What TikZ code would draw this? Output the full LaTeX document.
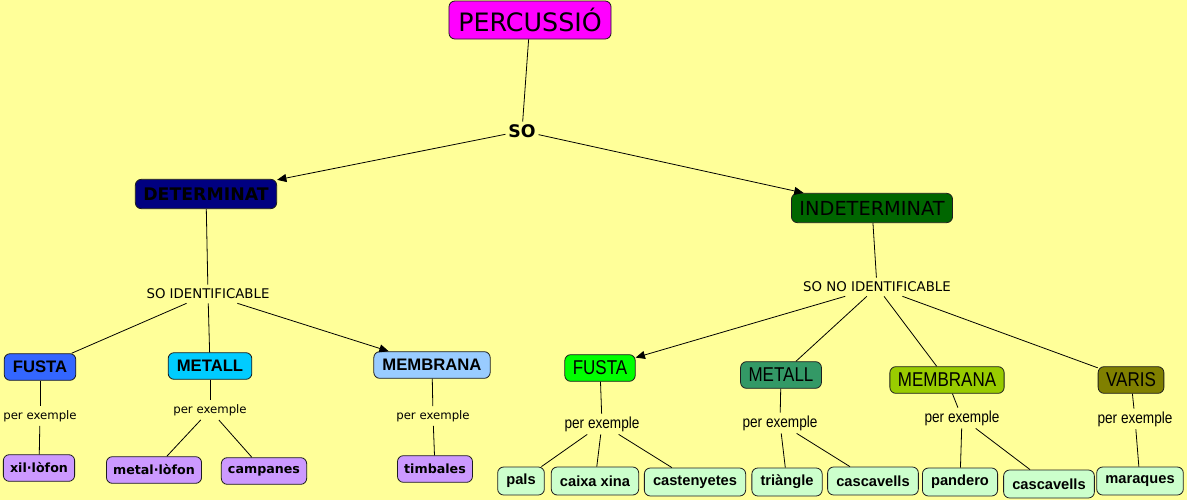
\documentclass[tikz,border=0pt]{standalone}
\usepackage{fontspec}
\setmainfont{DejaVu Sans}
\newfontfamily\narrowfont[FakeStretch=0.85]{Liberation Sans}
\newfontfamily\arialfont{Liberation Sans}
\usetikzlibrary{arrows.meta}
\definecolor{paper}{RGB}{255,255,153}
\definecolor{edge}{RGB}{30,30,30}
\definecolor{cHead}{RGB}{255,0,255}
\definecolor{cDet}{RGB}{0,0,128}
\definecolor{cIndet}{RGB}{0,102,0}
\definecolor{cWoodA}{RGB}{51,102,255}
\definecolor{cMetalA}{RGB}{0,204,255}
\definecolor{cSkinA}{RGB}{153,204,255}
\definecolor{cWoodB}{RGB}{0,255,0}
\definecolor{cMetalB}{RGB}{51,153,102}
\definecolor{cSkinB}{RGB}{153,204,0}
\definecolor{cMisc}{RGB}{128,128,0}
\definecolor{cLeafA}{RGB}{204,153,255}
\definecolor{cLeafB}{RGB}{204,255,204}
\newcommand{\fs}[1]{\fontsize{#1}{#1}\selectfont}

\begin{document}
\begin{tikzpicture}[
  x=0.75pt, y=-0.75pt,
  >={Triangle[length=7pt,width=6pt]},
  concept/.style={draw=edge, line width=0.6pt, rounded corners=4.5pt, align=center, text=black},
  head/.style={concept, fill=cHead, font=\fs{19}, minimum height=28.5pt, inner xsep=7pt},
  kind/.style={concept, font=\fs{14.5}, minimum height=22pt, inner xsep=6pt},
  groupA/.style={concept, font=\arialfont\bfseries\fs{12.5}, minimum height=20pt, inner xsep=6.5pt},
  groupB/.style={concept, font=\narrowfont\fs{15}, minimum height=20pt, inner xsep=6pt},
  leafA/.style={concept, fill=cLeafA, font=\bfseries\fs{9.5}, minimum height=20pt, inner xsep=5pt},
  leafB/.style={concept, fill=cLeafB, font=\arialfont\bfseries\fs{11}, minimum height=21pt, inner xsep=6.5pt},
  link/.style={font=\fs{10}, inner sep=3pt},
  exA/.style={font=\fs{8.8}, inner sep=3pt},
  exB/.style={font=\narrowfont\fs{12}, inner sep=2pt},
  conn/.style={draw=black, line width=0.6pt},
]

% ---- page ----
\fill[paper] (0,0) rectangle (1187,500);
\useasboundingbox (0,0) rectangle (1187,500);

% ---- top of the map ----
\node[head] (PERC) at (530,20) {PERCUSSIÓ};
\node[font=\bfseries\fs{13}, inner sep=2pt] (SO) at (522,131) {SO};
\node[kind, fill=cDet, font=\bfseries\fs{13}] (DET) at (206,194) {DETERMINAT};
\node[kind, fill=cIndet] (IND) at (872,208) {INDETERMINAT};

\node[link] (SOID) at (208,294) {SO IDENTIFICABLE};
\node[link] (SONO) at (877,287) {SO NO IDENTIFICABLE};

% ---- determinat branch ----
\node[groupA, fill=cWoodA] (FUSA) at (40,367) {FUSTA};
\node[groupA, fill=cMetalA] (META) at (210,366) {METALL};
\node[groupA, fill=cSkinA] (MEMA) at (432,365) {MEMBRANA};

\node[exA] (EXFA) at (40,416) {per exemple};
\node[exA] (EXMA) at (210,410) {per exemple};
\node[exA] (EXBA) at (433,416) {per exemple};

\node[leafA] (XIL) at (39,468) {xil·lòfon};
\node[leafA] (MLF) at (154,470) {metal·lòfon};
\node[leafA] (CMP) at (264,471) {campanes};
\node[leafA] (TMB) at (435,469) {timbales};

% ---- indeterminat branch ----
\node[groupB, fill=cWoodB] (FUSB) at (600,368) {FUSTA};
\node[groupB, fill=cMetalB] (METB) at (781,375) {METALL};
\node[groupB, fill=cSkinB] (MEMB) at (947,380) {MEMBRANA};
\node[groupB, fill=cMisc] (VAR) at (1131,380) {VARIS};

\node[exB] (EXFB) at (602,424) {per exemple};
\node[exB] (EXMB) at (780,423) {per exemple};
\node[exB] (EXBB) at (962,418) {per exemple};
\node[exB] (EXVB) at (1135,419) {per exemple};

\node[leafB] (PAL) at (521,481) {pals};
\node[leafB] (CXX) at (595,481) {caixa xina};
\node[leafB] (CST) at (695,482) {castenyetes};
\node[leafB] (TRI) at (787,482) {triàngle};
\node[leafB] (CSA) at (873,481) {cascavells};
\node[leafB] (PAN) at (960,482) {pandero};
\node[leafB] (CSB) at (1049,484) {cascavells};
\node[leafB] (MAR) at (1140,481) {maraques};

% ---- connectors ----
\draw[conn] (PERC) -- (SO);
\draw[conn, ->] (SO) -- (DET);
\draw[conn, ->] (SO) -- (IND);

\draw[conn] (DET) -- (SOID);
\draw[conn] (SOID) -- (FUSA);
\draw[conn] (SOID) -- (META);
\draw[conn, ->] (SOID) -- (MEMA);

\draw[conn] (FUSA) -- (EXFA);
\draw[conn] (EXFA) -- (XIL);
\draw[conn] (META) -- (EXMA);
\draw[conn] (EXMA) -- (MLF);
\draw[conn] (EXMA) -- (CMP);
\draw[conn] (MEMA) -- (EXBA);
\draw[conn] (EXBA) -- (TMB);

\draw[conn] (IND) -- (SONO);
\draw[conn, ->] (SONO) -- (FUSB);
\draw[conn] (SONO) -- (METB);
\draw[conn] (SONO) -- (MEMB);
\draw[conn] (SONO) -- (VAR);

\draw[conn] (FUSB) -- (EXFB);
\draw[conn] (EXFB) -- (PAL);
\draw[conn] (EXFB) -- (CXX);
\draw[conn] (EXFB) -- (CST);
\draw[conn] (METB) -- (EXMB);
\draw[conn] (EXMB) -- (TRI);
\draw[conn] (EXMB) -- (CSA);
\draw[conn] (MEMB) -- (EXBB);
\draw[conn] (EXBB) -- (PAN);
\draw[conn] (EXBB) -- (CSB);
\draw[conn] (VAR) -- (EXVB);
\draw[conn] (EXVB) -- (MAR);

\end{tikzpicture}
\end{document}
